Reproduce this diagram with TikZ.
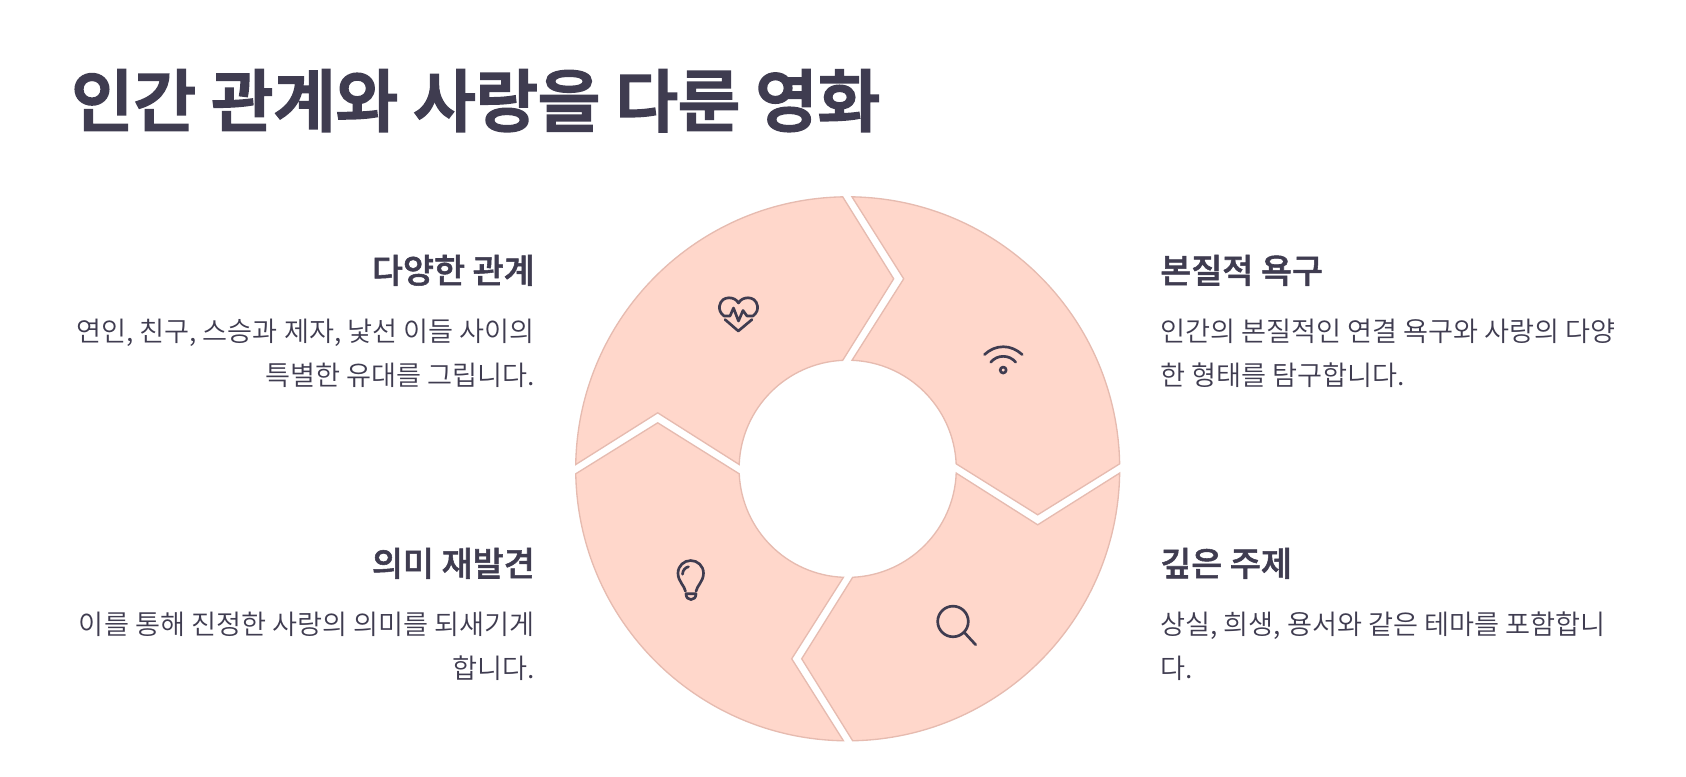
\documentclass[tikz,border=0pt]{standalone}
\usepackage{fontspec}
\setmainfont{Noto Sans CJK KR DemiLight}
\newfontfamily\heavyface[FakeBold=1.6]{Noto Sans CJK KR Medium}
\newfontfamily\titleface[FakeBold=3.2]{Noto Sans CJK KR Medium}
\definecolor{ink}{HTML}{3F3C50}
\definecolor{petal}{HTML}{FFD7CB}
\definecolor{petaledge}{HTML}{E6BBB0}
\tikzset{
  petalshape/.style={fill=petal,draw=petaledge,line width=1pt,line join=miter},
  icon/.style={draw=ink,line width=2pt,line cap=round,line join=round},
  titletext/.style={text=ink,font=\fontsize{50.8}{60}\selectfont\titleface,anchor=base west,inner sep=0pt},
  headtext/.style={text=ink,font=\fontsize{25.3}{30}\selectfont\heavyface,inner sep=0pt},
  bodytext/.style={text=ink,font=\fontsize{20.4}{33}\selectfont,inner sep=0pt},
  headL/.style={headtext,anchor=base east},
  headR/.style={headtext,anchor=base west},
  bodyL/.style={bodytext,anchor=base east,align=right},
  bodyR/.style={bodytext,anchor=base west,align=left},
}
\begin{document}
\begin{tikzpicture}[x=0.75pt,y=-0.75pt]
\useasboundingbox (0,0) rectangle (1686,776);
\fill[white] (0,0) rectangle (1686,776);
% petals: same outline turned four times
\foreach \a in {0,-90,-180,-270}{
  \begin{scope}[shift={(847.7,468.8)},y=0.75pt,rotate=\a]
    \draw[petalshape]
      (89.1:204pt)
      arc[start angle=89.1,end angle=1.05,radius=204pt]
      -- (190,-46) -- (2.64:81.45pt)
      arc[start angle=2.64,end angle=87.73,radius=81.45pt]
      -- (56,190) -- cycle;
  \end{scope}
}
% title
\node[titletext] (title) at (71,126) {인간 관계와 사랑을 다룬 영화};
% left column
\node[headL] (h1) at (535,283) {다양한 관계};
\node[bodyL] (b1) at (535,385.5) {연인, 친구, 스승과 제자, 낯선 이들 사이의\\특별한 유대를 그립니다.};
\node[headL] (h2) at (535,576) {의미 재발견};
\node[bodyL] (b2) at (535,678.5) {이를 통해 진정한 사랑의 의미를 되새기게\\합니다.};
% right column
\node[headR] (h3) at (1160,283) {본질적 욕구};
\node[bodyR] (b3) at (1160,385.5) {인간의 본질적인 연결 욕구와 사랑의 다양\\한 형태를 탐구합니다.};
\node[headR] (h4) at (1160,576) {깊은 주제};
\node[bodyR] (b4) at (1160,678.5) {상실, 희생, 용서와 같은 테마를 포함합니\\다.};
% heart icon
\begin{scope}[yshift=-0.75pt]
\draw[icon] (724,315) .. controls (720,312) and (719,308) .. (719.5,305)
  .. controls (720.5,299) and (725,296.8) .. (729,296.8)
  .. controls (733,296.8) and (736.5,298.5) .. (738.5,302)
  .. controls (740.5,298.5) and (744,296.8) .. (748,296.8)
  .. controls (752,296.8) and (756.5,299) .. (757.5,305)
  .. controls (758,308) and (757,312) .. (753,315)
  -- (747,315) -- (743,309.5) -- (738.5,320) -- (733.5,307) -- (730,315) -- cycle;
\draw[icon] (725,318.5) -- (738.3,330) -- (752,318.5);
\end{scope}
% wifi icon
\begin{scope}[yshift=-0.4pt]
\draw[icon] (984.5,354) .. controls (990,349) and (996,346.2) .. (1003.3,346.2)
  .. controls (1010.5,346.2) and (1016.5,349) .. (1022.2,354);
\draw[icon] (990.7,361.7) .. controls (994,358) and (998,355.8) .. (1003.3,355.8)
  .. controls (1008.5,355.8) and (1012.5,358) .. (1015.7,361.7);
\draw[icon] (1003.2,369.5) circle[radius=3];
\end{scope}
% bulb icon
\begin{scope}[yshift=-1.3pt]
\draw[icon] (685.5,589.5) .. controls (684.5,584) and (678,579.5) .. (678,571.5)
  .. controls (678,564) and (684,558.8) .. (690.7,558.8)
  .. controls (697.5,558.8) and (703.5,564) .. (703.5,571.5)
  .. controls (703.5,579.5) and (697,584) .. (696,589.5);
\draw[icon] (682.5,572.5) .. controls (682.8,568.5) and (685,565.8) .. (688.5,565);
\draw[icon] (686,592) -- (696,592) .. controls (696,596) and (693.5,597.8) .. (691,597.8)
  .. controls (688.5,597.8) and (686,596) .. (686,592) -- cycle;
\end{scope}
% search icon
\begin{scope}[yshift=-1.1pt]
\draw[icon] (953,620) circle[radius=15.3];
\draw[icon] (964.3,631) -- (975.7,643.3);
\end{scope}
\end{tikzpicture}
\end{document}
